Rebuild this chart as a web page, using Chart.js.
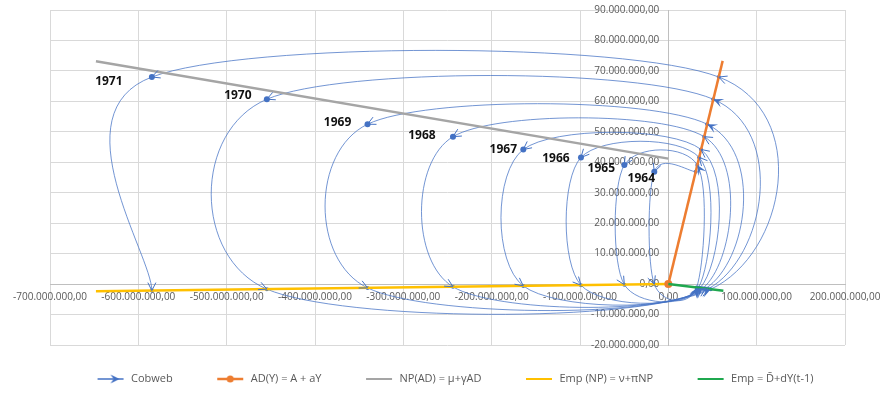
<!DOCTYPE html>
<html>
<head>
<meta charset="utf-8">
<script src="https://cdn.jsdelivr.net/npm/chart.js@4.4.1/dist/chart.umd.min.js"></script>
<style>
  html, body { margin: 0; padding: 0; background: #fff; }
  #wrap { width: 888px; height: 399px; position: relative; }
</style>
</head>
<body>
<div id="wrap"><canvas id="chart"></canvas></div>
<script>
// --- data ---
const years = [1964, 1965, 1966, 1967, 1968, 1969, 1970, 1971];
// cobweb corner points
const npX  = [-15.9e6, -49.8e6, -98.9e6, -164.2e6, -243.8e6, -340.5e6, -454.5e6, -584.7e6];
const npY  = [36.9e6, 39.1e6, 41.6e6, 44.2e6, 48.4e6, 52.5e6, 60.7e6, 68.0e6];
const adX  = [31.0e6, 32.8e6, 34.9e6, 37.1e6, 40.6e6, 44.0e6, 50.9e6, 57.1e6];
const empY = [-0.06e6, -0.18e6, -0.36e6, -0.60e6, -0.89e6, -1.25e6, -1.66e6, -2.14e6];
const gX   = [32e6, 34e6, 36e6, 39e6, 42e6, 45e6, 48e6];
const gY   = [-1.13e6, -1.2e6, -1.27e6, -1.38e6, -1.48e6, -1.59e6, -1.69e6];
// straight function lines
const adLineX  = [0, 61.5e6];     const adLineY  = [0, 73.3e6];
const npLineX  = [-648e6, 0];     const npLineY  = [73.2e6, 41.2e6];
const empNpX   = [-648e6, 0];     const empNpY   = [-2.37e6, 0];
const empLineX = [0, 62.3e6];     const empLineY = [0, -2.2e6];
// axes
const xMin = -700e6, xMax = 200e6, xStep = 100e6;
const yMin = -20e6,  yMax = 90e6,  yStep = 10e6;
const seriesNames = ['Cobweb', 'AD(Y) = A + aY', 'NP(AD) = \u03bc+\u03b3AD', 'Emp (NP) = \u03bd+\u03c0NP', 'Emp = D\u0304+dY(t-1)'];

// path: AD -> NP -> Emp(NP) -> Emp(Y) -> next AD ...
const cobweb = [];
years.forEach((yr, i) => {
  cobweb.push({ x: adX[i], y: npY[i] });
  cobweb.push({ x: npX[i], y: npY[i] });
  cobweb.push({ x: npX[i], y: empY[i] });
  if (i < gX.length) cobweb.push({ x: gX[i], y: gY[i] });
});
const pairs = (xs, ys) => xs.map((x, i) => ({ x, y: ys[i] }));

const BLUE = '#4472C4';
const FONT = 'Open Sans';

function fmt(v) {
  const neg = v < 0;
  const [ip, fp] = Math.abs(v).toFixed(2).split('.');
  return (neg ? '-' : '') + ip.replace(/\B(?=(\d{3})+(?!\d))/g, '.') + ',' + fp;
}

// legend icons (blank space on the left widens the gap between entries)
function icon(color, lw, marker) {
  const c = document.createElement('canvas');
  c.width = 44; c.height = 12;
  const g = c.getContext('2d');
  g.strokeStyle = color; g.lineWidth = lw;
  g.beginPath(); g.moveTo(16, 6); g.lineTo(42, 6); g.stroke();
  g.fillStyle = color;
  if (marker === 'circle') {
    g.beginPath(); g.arc(29, 6, 3.5, 0, Math.PI * 2); g.fill();
  } else if (marker === 'arrow') {
    g.beginPath(); g.moveTo(38, 6); g.lineTo(29, 1.5); g.lineTo(32, 6); g.lineTo(29, 10.5); g.closePath(); g.fill();
  }
  return c;
}
const legendIcons = [
  icon(BLUE, 1.5, 'arrow'),
  icon('#ED7D31', 2.5, 'circle'),
  icon('#A5A5A5', 2, null),
  icon('#FFC000', 2, null),
  icon('#1FA84F', 2, null)
];

// Excel style smoothing (Catmull-Rom, 1/6 tangents) for the cobweb line
const excelSmooth = {
  id: 'excelSmooth',
  beforeDraw(chart) {
    // y labels sit a little left of the vertical axis line
    chart.scales.y.getLabelItems().forEach(it => {
      if (!it._moved) { it.options.translation[0] -= 9; it._moved = true; }
    });
  },
  beforeDatasetsDraw(chart) {
    const meta = chart.getDatasetMeta(0);
    const line = meta.dataset;
    line.updateControlPoints(chart.chartArea, 'x');
    const pts = meta.data;
    const n = pts.length;
    for (let i = 0; i < n; i++) {
      const a = pts[Math.max(i - 1, 0)], p = pts[i], b = pts[Math.min(i + 1, n - 1)];
      const dx = (b.x - a.x) / 6, dy = (b.y - a.y) / 6;
      p.cp1x = p.x - dx; p.cp1y = p.y - dy;
      p.cp2x = p.x + dx; p.cp2y = p.y + dy;
    }
    line._path = undefined;
  }
};

// arrow heads and year labels on the cobweb
const cobwebDecor = {
  id: 'cobwebDecor',
  afterDatasetsDraw(chart, args, opts) {
    const ctx = chart.ctx;
    const pts = chart.getDatasetMeta(0).data;
    ctx.save();
    ctx.strokeStyle = BLUE; ctx.fillStyle = BLUE; ctx.lineWidth = 1;
    pts.forEach((p, i) => {
      if (i === 0) return;
      let dx = p.x - p.cp1x, dy = p.y - p.cp1y;
      const len = Math.hypot(dx, dy) || 1;
      dx /= len; dy /= len;
      const filled = opts.filled.includes(i);
      const L = filled ? 10 : 8, w = filled ? 4.5 : 4;
      const bx = p.x - dx * L, by = p.y - dy * L;
      ctx.beginPath();
      if (filled) {
        ctx.moveTo(p.x, p.y);
        ctx.lineTo(bx - dy * w, by + dx * w);
        ctx.lineTo(p.x - dx * L * 0.55, p.y - dy * L * 0.55);
        ctx.lineTo(bx + dy * w, by - dx * w);
        ctx.closePath(); ctx.fill();
      } else {
        ctx.moveTo(bx - dy * w, by + dx * w);
        ctx.lineTo(p.x, p.y);
        ctx.lineTo(bx + dy * w, by - dx * w);
        ctx.stroke();
      }
    });
    ctx.fillStyle = '#111';
    ctx.font = 'bold 12px "' + FONT + '"';
    ctx.textAlign = 'center'; ctx.textBaseline = 'middle';
    years.forEach((yr, k) => {
      const p = pts[4 * k + 1];
      const o = opts.labelOffsets[k];
      ctx.fillText(String(yr), p.x + o[0], p.y + o[1]);
    });
    ctx.restore();
  }
};

new Chart(document.getElementById('chart'), {
  type: 'scatter',
  data: {
    datasets: [
      {
        label: seriesNames[0], data: cobweb, showLine: true, order: 5,
        borderColor: 'rgba(68,114,196,0.75)', borderWidth: 1, tension: 0.4,
        pointRadius: c => (c.dataIndex % 4 === 1 ? 3 : 2),
        pointBackgroundColor: BLUE, pointBorderWidth: 0
      },
      {
        label: seriesNames[1], data: pairs(adLineX, adLineY), showLine: true, order: 2,
        borderColor: '#ED7D31', borderWidth: 2.5,
        pointRadius: [4, 0], pointBackgroundColor: '#ED7D31', pointBorderWidth: 0
      },
      {
        label: seriesNames[2], data: pairs(npLineX, npLineY), showLine: true, order: 3,
        borderColor: '#A5A5A5', borderWidth: 2.5, pointRadius: 0
      },
      {
        label: seriesNames[3], data: pairs(empNpX, empNpY), showLine: true, order: 4,
        borderColor: '#FFC000', borderWidth: 2.5, pointRadius: 0
      },
      {
        label: seriesNames[4], data: pairs(empLineX, empLineY), showLine: true, order: 1,
        borderColor: '#1FA84F', borderWidth: 2.5, pointRadius: 0
      }
    ]
  },
  options: {
    responsive: true,
    maintainAspectRatio: false,
    animation: false,
    events: [],
    layout: { padding: { left: 50, right: 43, top: 10, bottom: 4.5 } },
    scales: {
      x: {
        type: 'linear', position: { y: 0 }, min: xMin, max: xMax,
        ticks: { stepSize: xStep, autoSkip: false, maxRotation: 0, padding: 7, color: '#595959',
                 font: { family: FONT, size: 10 }, callback: v => fmt(v) },
        grid: { color: '#D9D9D9', drawTicks: false },
        border: { color: '#BFBFBF' }
      },
      y: {
        type: 'linear', position: { x: 0 }, min: yMin, max: yMax,
        ticks: { stepSize: yStep, autoSkip: false, color: '#595959',
                 font: { family: FONT, size: 10 }, callback: v => fmt(v) },
        grid: { color: '#D9D9D9', drawTicks: false },
        border: { color: '#BFBFBF' }
      }
    },
    plugins: {
      tooltip: { enabled: false },
      legend: {
        position: 'bottom',
        labels: {
          usePointStyle: true, pointStyleWidth: 44, padding: 28.5,
          color: '#595959', font: { family: FONT, size: 11 },
          sort: (a, b) => a.datasetIndex - b.datasetIndex,
          generateLabels(chart) {
            const items = Chart.defaults.plugins.legend.labels.generateLabels(chart);
            items.forEach(it => { it.pointStyle = legendIcons[it.datasetIndex]; });
            return items;
          }
        }
      },
      cobwebDecor: {
        filled: [4, 11, 20, 24, 27, 3, 7, 15],
        labelOffsets: [[-13, 7], [-23, 4], [-25, 1], [-20, 0], [-31, -1], [-30, -2], [-29, -4], [-43, 5]]
      }
    }
  },
  plugins: [excelSmooth, cobwebDecor]
});
</script>
</body>
</html>
